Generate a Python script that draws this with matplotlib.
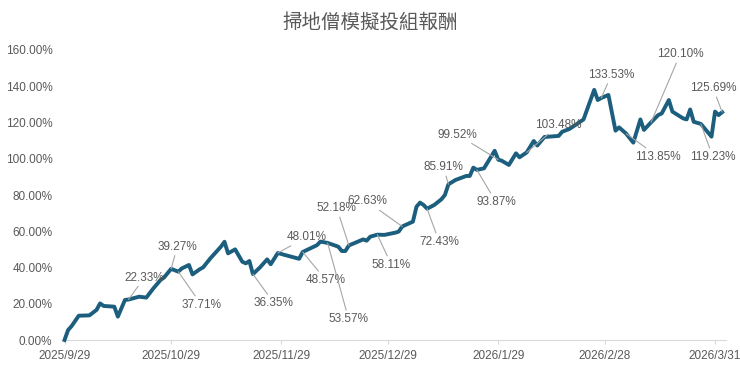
import matplotlib
matplotlib.use("Agg")
from matplotlib import pyplot as plt
import matplotlib.dates as mdates
import numpy as np
import datetime as dt

# portfolio return (%)
dates = ["2025-09-29", "2025-09-30", "2025-10-01", "2025-10-03", "2025-10-06", "2025-10-08",
         "2025-10-09", "2025-10-10", "2025-10-13", "2025-10-14", "2025-10-16", "2025-10-17",
         "2025-10-20", "2025-10-22", "2025-10-24", "2025-10-26", "2025-10-27", "2025-10-29",
         "2025-10-31", "2025-11-01", "2025-11-03", "2025-11-04", "2025-11-06", "2025-11-07",
         "2025-11-09", "2025-11-12", "2025-11-13", "2025-11-14", "2025-11-16", "2025-11-18",
         "2025-11-19", "2025-11-20", "2025-11-21", "2025-11-23", "2025-11-25", "2025-11-26",
         "2025-11-28", "2025-11-30", "2025-12-04", "2025-12-05", "2025-12-09", "2025-12-10",
         "2025-12-12", "2025-12-15", "2025-12-16", "2025-12-17", "2025-12-18", "2025-12-22",
         "2025-12-23", "2025-12-24", "2025-12-26", "2025-12-28", "2025-12-31", "2026-01-01",
         "2026-01-02", "2026-01-05", "2026-01-06", "2026-01-07", "2026-01-08", "2026-01-09",
         "2026-01-11", "2026-01-13", "2026-01-14", "2026-01-15", "2026-01-17", "2026-01-20",
         "2026-01-21", "2026-01-22", "2026-01-23", "2026-01-25", "2026-01-28", "2026-01-29",
         "2026-01-30", "2026-02-01", "2026-02-03", "2026-02-04", "2026-02-06", "2026-02-08",
         "2026-02-09", "2026-02-11", "2026-02-15", "2026-02-16", "2026-02-18", "2026-02-20",
         "2026-02-22", "2026-02-25", "2026-02-26", "2026-02-27", "2026-03-01", "2026-03-03",
         "2026-03-04", "2026-03-06", "2026-03-08", "2026-03-10", "2026-03-11", "2026-03-13",
         "2026-03-15", "2026-03-16", "2026-03-18", "2026-03-19", "2026-03-22", "2026-03-23",
         "2026-03-24", "2026-03-25", "2026-03-27", "2026-03-30", "2026-03-31", "2026-04-01",
         "2026-04-02"]
returns = [0.0, 5.5, 7.7, 13.4, 13.6, 16.6,
           20.2, 18.8, 18.4, 12.9, 22.1, 22.33,
           23.9, 23.4, 28.5, 33.1, 34.5, 39.27,
           37.71, 39.5, 41.4, 36.2, 39.0, 40.1,
           45.0, 51.5, 54.2, 47.8, 50.0, 43.2,
           42.3, 43.6, 36.35, 40.1, 44.5, 41.8,
           48.01, 46.9, 44.8, 48.57, 52.3, 54.3,
           53.57, 51.5, 49.1, 49.1, 52.18, 55.5,
           54.8, 57.0, 58.11, 58.0, 59.2, 59.8,
           62.63, 65.3, 73.5, 75.8, 74.5, 72.43,
           74.5, 77.6, 80.0, 85.91, 88.3, 90.5,
           90.5, 95.1, 93.87, 94.7, 104.4, 99.52,
           98.9, 96.6, 103.0, 100.8, 103.48, 109.8,
           107.3, 112.0, 112.6, 114.9, 116.4, 119.0,
           121.7, 138.0, 132.4, 133.53, 135.2, 115.5,
           117.3, 113.85, 108.9, 121.7, 115.9, 120.10,
           124.1, 125.0, 132.4, 126.0, 122.3, 121.7,
           127.2, 120.4, 119.23, 112.2, 126.0, 124.1,
           125.69]

# labelled points and where their labels sit (offset in pixels)
label_dates = ["2025-10-17", "2025-10-29", "2025-10-31", "2025-11-21", "2025-11-28",
               "2025-12-05", "2025-12-12", "2025-12-18", "2025-12-26", "2026-01-02",
               "2026-01-09", "2026-01-15", "2026-01-23", "2026-01-29", "2026-02-06",
               "2026-02-27", "2026-03-06", "2026-03-13", "2026-03-27", "2026-04-02"]
label_offsets = [(16, 22), (6, 22), (23, -33), (21, -29), (29, 16),
                 (23, -28), (21, -76), (-12, 37), (14, -30), (-35, 25),
                 (12, -33), (-5, 17), (19, -32), (-41, 25), (32, 27),
                 (10, 23), (32, -23), (29, 68), (12, -33), (-9, 24)]

tick_dates = ["2025-09-29", "2025-10-29", "2025-11-29", "2025-12-29",
              "2026-01-29", "2026-02-28", "2026-03-31"]

def to_date(s):
    return dt.datetime.strptime(s, "%Y-%m-%d")

x = [to_date(d) for d in dates]
y = np.array(returns)

plt.rcParams['font.family'] = ['Liberation Sans', 'DejaVu Sans']

fig = plt.figure(figsize=(7.4, 3.66), dpi=100)
ax = fig.add_axes([0.0858, 0.071, 0.8949, 0.7924])

ax.plot(x, y, color='#1b5e7e', lw=2.8, solid_joinstyle='round', clip_on=False, zorder=3)

for d, (dx, dy) in zip(label_dates, label_offsets):
    v = returns[dates.index(d)]
    ax.annotate(f"{v:.2f}%", xy=(to_date(d), v), xytext=(dx, dy),
                textcoords='offset pixels', ha='center', va='center',
                fontsize=8.5, color='#595959', zorder=4,
                arrowprops=dict(arrowstyle='-', color='#a6a6a6', lw=0.8,
                                shrinkA=0, shrinkB=0))

ax.set_xlim(to_date("2025-09-29") - dt.timedelta(hours=7), to_date("2026-04-03"))
ax.set_ylim(0, 160)
ax.set_yticks(np.arange(0, 161, 20))
ax.set_yticklabels([f"{t:.2f}%" for t in np.arange(0, 161, 20)])
ax.set_xticks([to_date(t) for t in tick_dates])
ax.set_xticklabels([f"{to_date(t).year}/{to_date(t).month}/{to_date(t).day}" for t in tick_dates])

for s in ['top', 'right', 'left']:
    ax.spines[s].set_visible(False)
ax.spines['bottom'].set_color('#d9d9d9')
ax.spines['bottom'].set_linewidth(0.8)
ax.tick_params(axis='y', length=0, pad=8, labelsize=8.5, labelcolor='#595959')
ax.tick_params(axis='x', length=3, color='#d9d9d9', pad=4, labelsize=8.5, labelcolor='#595959')

fig.text(0.5, 0.94, "掃地僧模擬投組報酬", ha='center', va='center', fontsize=14,
         color='#595959', family=['Noto Sans CJK TC', 'DejaVu Sans'], fontweight='light')

fig.savefig("out.png", dpi=100)
